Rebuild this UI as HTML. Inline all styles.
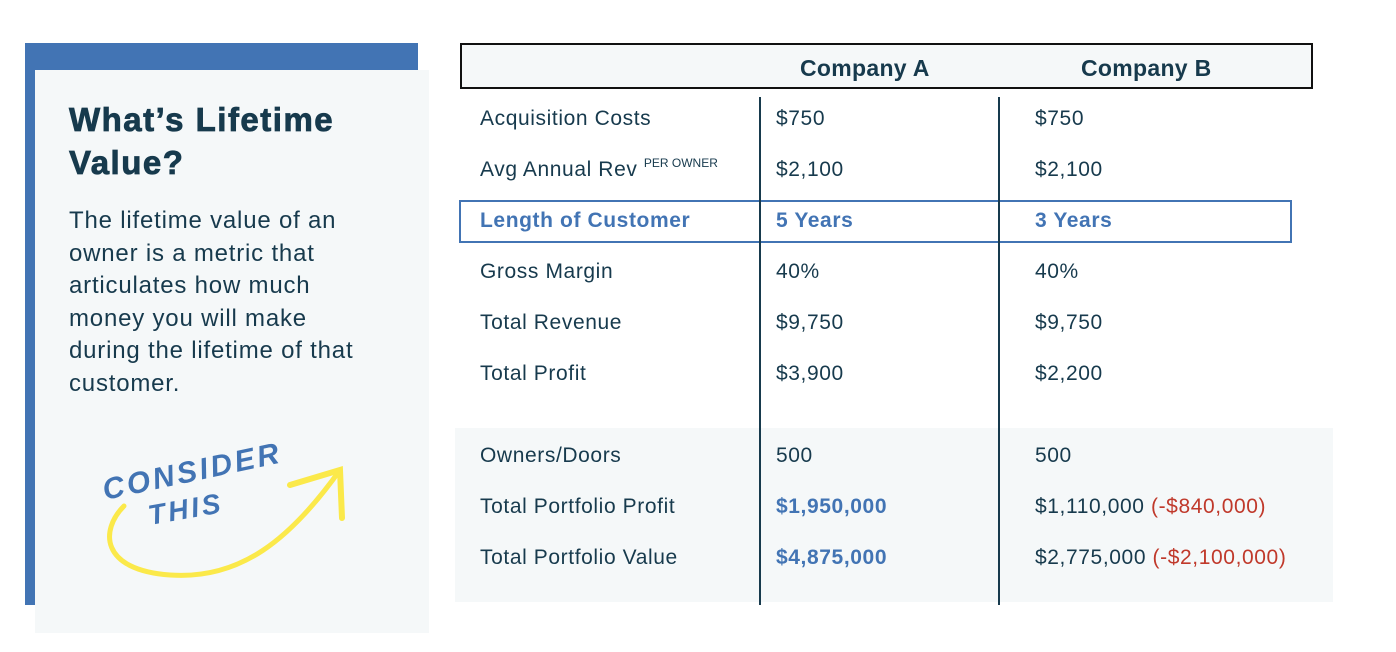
<!DOCTYPE html>
<html><head><style>
body{margin:0;width:1396px;height:652px;background:#fff;position:relative;overflow:hidden;font-family:"Liberation Sans",sans-serif;color:#173a4d}
.a{position:absolute}
.t{position:absolute;font-size:21px;line-height:24px;white-space:nowrap;top:0;letter-spacing:0.6px}
.b{color:#4274b4;font-weight:bold}
.r{color:#c0392b}
</style></head><body>
<div class="a" style="left:25px;top:43px;width:393px;height:562px;background:#4274b4"></div>
<div class="a" style="left:35px;top:70px;width:394px;height:563px;background:#f5f8f9"></div>
<div class="a" style="left:69px;top:98px;font-size:33px;font-weight:900;line-height:43px;color:#173a4d;letter-spacing:1.5px;-webkit-text-stroke:0.8px #173a4d">What’s Lifetime<br>Value?</div>
<div class="a" style="left:69px;top:205px;font-size:24px;line-height:32.5px;white-space:nowrap;letter-spacing:0.8px">The lifetime value of an<br>owner is a metric that<br>articulates how much<br>money you will make<br>during the lifetime of that<br>customer.</div>
<svg class="a" style="left:90px;top:430px" width="270" height="160">
<path d="M34 76 C10 100 10 140 80 145 C150 150 200 110 250 40" stroke="#fbe94a" stroke-width="5" fill="none" stroke-linecap="round"/>
<path d="M200 55 L250 40 L252 88" stroke="#fbe94a" stroke-width="6" fill="none" stroke-linecap="round"/>
<text x="15" y="70" transform="rotate(-12 15 70)" font-family="Liberation Sans" font-style="italic" font-weight="bold" font-size="30" fill="#4274b4" letter-spacing="3">CONSIDER</text>
<text x="60" y="95" transform="rotate(-10 60 95)" font-family="Liberation Sans" font-style="italic" font-weight="bold" font-size="28" fill="#4274b4" letter-spacing="3">THIS</text>
</svg>
<div class="a" style="left:460px;top:43px;width:849px;height:42px;border:2px solid #111;background:#f5f8f9"></div>
<div class="t" style="left:800px;top:56px;font-weight:bold;font-size:23px;letter-spacing:0.3px">Company A</div>
<div class="t" style="left:1081px;top:56px;font-weight:bold;font-size:23px;letter-spacing:0.3px">Company B</div>
<div class="a" style="left:455px;top:428px;width:878px;height:174px;background:#f5f8f9"></div>
<div class="a" style="left:459px;top:200px;width:829px;height:39px;border:2px solid #4274b4"></div>
<div class="a" style="left:759px;top:97px;width:2px;height:508px;background:#173a4d"></div>
<div class="a" style="left:998px;top:97px;width:2px;height:508px;background:#173a4d"></div>
<div class="t" style="left:480px;top:107px">Acquisition Costs</div><div class="t" style="left:776px;top:107px">$750</div><div class="t" style="left:1035px;top:107px">$750</div>
<div class="t" style="left:480px;top:158px">Avg Annual Rev <span style="font-size:12px;position:relative;top:-9px;letter-spacing:0">PER OWNER</span></div><div class="t" style="left:776px;top:158px">$2,100</div><div class="t" style="left:1035px;top:158px">$2,100</div>
<div class="t b" style="left:480px;top:209px">Length of Customer</div><div class="t b" style="left:776px;top:209px">5 Years</div><div class="t b" style="left:1035px;top:209px">3 Years</div>
<div class="t" style="left:480px;top:260px">Gross Margin</div><div class="t" style="left:776px;top:260px">40%</div><div class="t" style="left:1035px;top:260px">40%</div>
<div class="t" style="left:480px;top:311px">Total Revenue</div><div class="t" style="left:776px;top:311px">$9,750</div><div class="t" style="left:1035px;top:311px">$9,750</div>
<div class="t" style="left:480px;top:362px">Total Profit</div><div class="t" style="left:776px;top:362px">$3,900</div><div class="t" style="left:1035px;top:362px">$2,200</div>
<div class="t" style="left:480px;top:444px">Owners/Doors</div><div class="t" style="left:776px;top:444px">500</div><div class="t" style="left:1035px;top:444px">500</div>
<div class="t" style="left:480px;top:495px">Total Portfolio Profit</div><div class="t b" style="left:776px;top:495px">$1,950,000</div><div class="t" style="left:1035px;top:495px">$1,110,000 <span class="r">(-$840,000)</span></div>
<div class="t" style="left:480px;top:546px">Total Portfolio Value</div><div class="t b" style="left:776px;top:546px">$4,875,000</div><div class="t" style="left:1035px;top:546px">$2,775,000 <span class="r">(-$2,100,000)</span></div>
</body></html>
